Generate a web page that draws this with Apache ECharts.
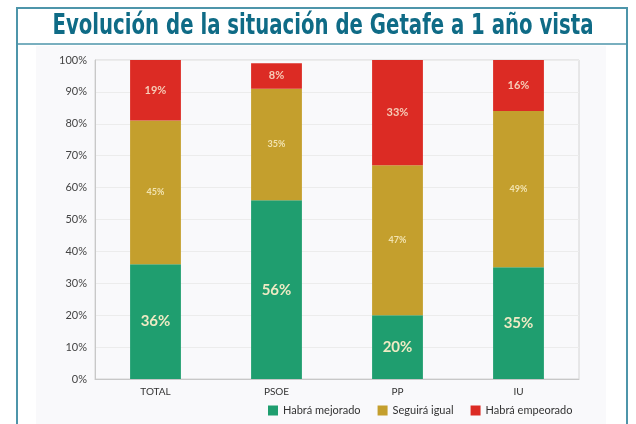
<!DOCTYPE html>
<html>
<head>
<meta charset="utf-8">
<script src="https://cdn.jsdelivr.net/npm/echarts@6/dist/echarts.min.js"></script>
<style>
  html, body { margin: 0; padding: 0; background: #fff; }
  #main { width: 636px; height: 424px; }
</style>
</head>
<body>
<div id="main"></div>
<script>
// datos
var categories = ["TOTAL", "PSOE", "PP", "IU"];
var mejorado = [36, 56, 20, 35];
var igual = [45, 35, 47, 49];
var empeorado = [19, 8, 33, 16];
var yTicks = [0, 10, 20, 30, 40, 50, 60, 70, 80, 90, 100];
var titulo = "Evolución de la situación de Getafe a 1 año vista";

var chart = echarts.init(document.getElementById("main"));

var option = {
  backgroundColor: "#ffffff",
  animation: false,
  graphic: [
    { type: "rect", z: -10, shape: { x: 36, y: 46, width: 570, height: 380 }, style: { fill: "#f9f9fb" } },
    { type: "rect", z: 100, shape: { x: 17, y: 8, width: 610, height: 430 }, style: { fill: "none", stroke: "#4d95aa", lineWidth: 2 } },
    { type: "line", z: 100, shape: { x1: 17, y1: 44, x2: 627, y2: 44 }, style: { stroke: "#4d95aa", lineWidth: 1.5 } },
    {
      // título estrecho (fuente condensada simulada)
      type: "text", z: 100, x: 323, y: 26, scaleX: 0.68,
      style: {
        text: titulo,
        fill: "#0f6b86",
        font: "bold 29px 'DejaVu Sans', sans-serif",
        textAlign: "center",
        textVerticalAlign: "middle"
      }
    }
  ],
  legend: {
    bottom: 3,
    left: 263,
    itemWidth: 10,
    itemHeight: 10,
    itemGap: 17,
    icon: "rect",
    textStyle: { fontSize: 11, color: "#333", fontFamily: "Lato" },
    data: ["Habrá mejorado", "Seguirá igual", "Habrá empeorado"]
  },
  grid: {
    left: 95,
    right: 57,
    top: 60,
    bottom: 45,
    show: true,
    borderColor: "#d4d4d4",
    borderWidth: 1
  },
  xAxis: {
    type: "category",
    data: categories,
    axisTick: { show: false },
    axisLine: { lineStyle: { color: "#c8c8c8" } },
    axisLabel: { color: "#333", fontSize: 10, margin: 8, fontFamily: "Lato" }
  },
  yAxis: {
    type: "value",
    min: yTicks[0],
    max: yTicks[yTicks.length - 1],
    interval: 10,
    axisLine: { show: true, lineStyle: { color: "#c8c8c8" } },
    splitLine: { lineStyle: { color: "#ececec" } },
    axisLabel: { color: "#444", fontSize: 11, formatter: "{value}%", fontFamily: "Lato" }
  },
  series: [
    {
      name: "Habrá mejorado",
      type: "bar",
      stack: "total",
      barWidth: "42%",
      data: mejorado,
      itemStyle: { color: "#1f9e6f" },
      label: { show: true, position: "inside", formatter: "{c}%", color: "#efeac4", fontSize: 15, fontWeight: "bold", fontFamily: "Lato" }
    },
    {
      name: "Seguirá igual",
      type: "bar",
      stack: "total",
      data: igual,
      itemStyle: { color: "#c49f2d" },
      label: { show: true, position: "inside", formatter: "{c}%", color: "#f2e3b0", fontSize: 9, fontWeight: "bold", fontFamily: "Lato" }
    },
    {
      name: "Habrá empeorado",
      type: "bar",
      stack: "total",
      data: empeorado,
      itemStyle: { color: "#dc2b24" },
      label: { show: true, position: "inside", formatter: "{c}%", color: "#f6cdb8", fontSize: 11, fontWeight: "bold", fontFamily: "Lato" }
    }
  ]
};

chart.setOption(option, true);
</script>
</body>
</html>
